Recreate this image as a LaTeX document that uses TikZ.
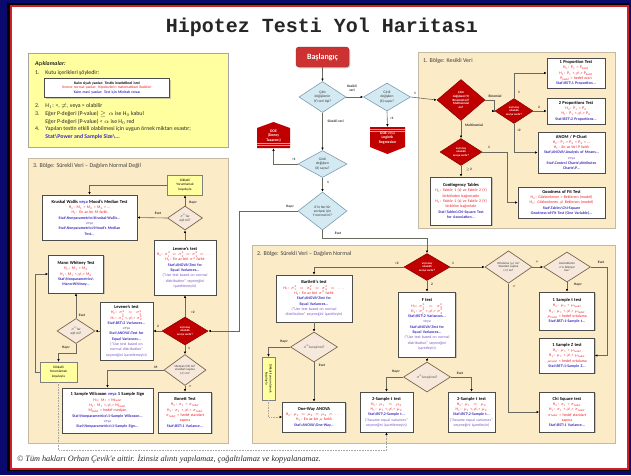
\RequirePackage{fix-cm}
\documentclass[tikz,border=0pt]{standalone}
\usepackage{fontspec}
\setmainfont{Carlito}
\newfontfamily\titlefont{Liberation Mono}
\newfontfamily\footfont{Liberation Serif}
\usetikzlibrary{shapes.geometric,shadows,arrows.meta}
\definecolor{bgnavy}{RGB}{10,10,110}
\definecolor{framered}{RGB}{210,30,40}
\definecolor{zonetan}{RGB}{251,235,198}
\definecolor{zoneline}{RGB}{195,185,165}
\definecolor{noteyellow}{RGB}{255,255,160}
\definecolor{qblue}{RGB}{212,234,243}
\definecolor{qblueline}{RGB}{125,155,175}
\definecolor{qred}{RGB}{192,0,0}
\definecolor{startred}{RGB}{205,50,50}
\definecolor{qbeige}{RGB}{246,233,220}
\definecolor{qbeigeline}{RGB}{125,100,75}
\definecolor{hypred}{RGB}{240,25,35}
\definecolor{routeblue}{RGB}{60,45,190}
\definecolor{notepurple}{RGB}{125,85,195}
\definecolor{linkgray}{RGB}{105,105,95}
\newcommand{\bsl}{\textbackslash}
\newcommand{\ix}[1]{\textsubscript{#1}}
\newcommand{\hy}[1]{{\color{hypred}#1}}
\newcommand{\mt}[1]{{\color{routeblue}\bfseries #1}}
\newcommand{\nt}[1]{{\color{notepurple}#1}}
\newcommand{\tn}[1]{{\bfseries\fontsize{4.5}{5.4}\selectfont #1}}

\begin{document}
\begin{tikzpicture}[x=1pt,y=-1pt,
	zone/.style={draw=zoneline,fill=zonetan,line width=0.6pt},
	zonetitle/.style={anchor=west,inner sep=0pt,text=black!75,font=\fontsize{6}{7}\selectfont},
	testbox/.style={draw=black!70,fill=white,line width=0.5pt,align=center,inner sep=1pt,font=\fontsize{3.9}{5.3}\selectfont,drop shadow={shadow xshift=1.3pt,shadow yshift=-1.3pt,opacity=0.4}},
	legline/.style={anchor=west,inner sep=0pt,text=black!85,font=\fontsize{5.8}{7}\selectfont},
	startbox/.style={draw=startred!70!black,fill=startred,rounded corners=3pt,text=white,minimum width=53pt,minimum height=20pt,font=\bfseries\fontsize{8}{9}\selectfont,drop shadow={shadow xshift=1.3pt,shadow yshift=-1.3pt,opacity=0.4}},
	doetext/.style={inner sep=0pt,align=center,text=white,font=\bfseries\fontsize{3.8}{4.6}\selectfont},
	bluedia/.style={diamond,draw=qblueline,fill=qblue,line width=0.6pt,inner sep=0pt,align=center,text=black!80,font=\fontsize{3.6}{4.2}\selectfont},
	reddia/.style={diamond,draw=qred!70!black,fill=qred,line width=0.5pt,inner sep=0pt,align=center,text=white,font=\bfseries\fontsize{3.1}{3.6}\selectfont},
	smallred/.style={reddia,font=\bfseries\fontsize{2.8}{3.3}\selectfont},
	beigedia/.style={diamond,draw=qbeigeline,fill=qbeige,line width=0.7pt,inner sep=0pt,align=center,text=black!80,font=\fontsize{3.4}{4.2}\selectfont},
	yelbox/.style={draw=black!50,fill=noteyellow,line width=0.4pt,align=center,inner sep=0.5pt,font=\fontsize{3.4}{4.1}\selectfont},
	link/.style={draw=linkgray,line width=0.6pt,-{Latex[length=2.6pt,width=2.4pt,color=black]}},
	dotlink/.style={link,densely dotted,draw=black!35},
	tag/.style={inner sep=0.3pt,align=center,text=black!80,font=\bfseries\fontsize{3.5}{4}\selectfont}]
	\useasboundingbox (0,0) rectangle (631,475);
	\fill[bgnavy] (0,0) rectangle (631,475);
	\fill[black] (7,3) rectangle (629,471);
	\draw[framered,line width=2pt,fill=white] (10.5,5.5) rectangle (627.5,468.5);
	\node[font=\titlefont\bfseries\fontsize{20}{22}\selectfont,text=black!85] (title) at (322,27) {Hipotez Testi Yol Haritası};

	\draw[zone] (418,52) rectangle (615,228);
	\draw[zone] (28,158) rectangle (228,443);
	\draw[zone] (252,245) rectangle (615,443);
	\node[zonetitle] (zone1) at (423,61) {1. Bölge: Kesikli Veri};
	\node[zonetitle] (zone3) at (33,166) {3. Bölge: Sürekli Veri -- Dağılım Normal Değil};
	\node[zonetitle] (zone2) at (257,254) {2. Bölge: Sürekli Veri -- Dağılım Normal};

	\node[draw=black!35,fill=noteyellow,minimum width=200pt,minimum height=94pt,drop shadow={shadow xshift=1pt,shadow yshift=-1pt,opacity=0.3}] (legend) at (128,100) {};
	\node[legline] (leghead) at (35,64) {\textbf{\textit{Açıklamalar:}}};
	\node[legline] (leg1) at (35,73) {1.\quad Kutu içerikleri şöyledir:};
	\node[testbox,text width=123pt,minimum height=19pt,font=\fontsize{3.7}{4.8}\selectfont] (legkey) at (107,88) {\textbf{Kalın siyah yazılar: Testin istatistiksel ismi}\\ \hy{Kırmızı normal yazılar: Hipotezlerin matematiksel ifadeleri}\\ \mt{Kalın mavi yazılar: Test için Minitab rotası}};
	\node[legline] (leg2) at (35,106) {2.\quad H$_1$: <, $\neq$, veya > olabilir};
	\node[legline] (leg3) at (35,114) {3.\quad Eğer P-değeri (P-value) $\geq\alpha$ ise H$_0$ kabul};
	\node[legline] (leg3b) at (35,121.5) {\phantom{3.}\quad Eğer P-değeri (P-value) < $\alpha$ ise H$_0$ red};
	\node[legline] (leg4) at (35,129) {4.\quad Yapılan testin etkili olabilmesi için uygun örnek miktarı esastır;};
	\node[legline] (leg4b) at (35,137) {\phantom{4.}\quad \mt{Stat\bsl Power and Sample Size\bsl...}};

	\node[startbox] (start) at (322.5,57) {Başlangıç};
	\node[bluedia,minimum width=47pt,minimum height=31pt] (d1) at (322.5,97) {Çıktı\\değişkenin\\(Y) veri tipi?};
	\node[bluedia,minimum width=47pt,minimum height=28pt] (d2) at (387,97) {Girdi\\değişken\\(X) sayısı?};
	\node[bluedia,minimum width=49pt,minimum height=27pt] (d3) at (322.5,164) {Girdi\\değişken\\(X) sayısı?};
	\node[bluedia,minimum width=49pt,minimum height=38pt] (d4) at (322.5,211) {X'in her bir\\seviyesi için\\Y normal mi?};

	\fill[qred] (370,127) -- (405,127) -- (405,147) -- (387.5,154) -- (370,147) -- cycle;
	\draw[white!60!qred,line width=0.5pt] (370,129.5) -- (405,129.5) (370,131.5) -- (405,131.5);
	\node[doetext,minimum width=35pt,minimum height=22pt] (doe1) at (387.5,138) {DOE {\mdseries veya}\\Logistic\\Regression};
	\fill[qred] (257,128) -- (273.5,122) -- (290,128) -- (290,148) -- (257,148) -- cycle;
	\draw[white!60!qred,line width=0.5pt] (257,143.5) -- (290,143.5) (257,145.5) -- (290,145.5);
	\node[doetext,minimum width=33pt,minimum height=24pt] (doe2) at (273.5,136) {DOE\\(Deney\\Tasarımı)};

	\node[reddia,minimum width=48pt,minimum height=41pt] (r1) at (461,100) {Çıktı\\değişkeni (Y)\\Binomial mi?\\Multinomial\\mı?};
	\node[smallred,minimum width=38pt,minimum height=25pt] (r1b) at (514,111) {x için kaç\\olasılıklı\\seviye vardır?};
	\node[smallred,minimum width=42pt,minimum height=27pt] (r1c) at (461,152) {x için kaç\\olasılıklı\\seviye vardır?};
	\node[smallred,minimum width=46pt,minimum height=27pt] (r2) at (427,267) {x için kaç\\olasılıklı\\seviye vardır?};
	\node[smallred,minimum width=46pt,minimum height=28pt] (r3) at (185,331) {x için kaç\\olasılıklı\\seviye vardır?};

	\node[testbox,text width=56pt,minimum height=30pt] (prop1) at (576,73) {\tn{1 Proportion Test}\\ \hy{H$_0$: P$_1$ = P\ix{hedef}}\\ \hy{H$_1$: P$_1$ <,$\neq$,> P\ix{hedef}}\\ \hy{P\ix{hedef} = hedef oran}\\ \mt{Stat\bsl BST\bsl 1 Proportion...}};
	\node[testbox,text width=56pt,minimum height=26pt] (prop2) at (576,111) {\tn{2 Proportions Test}\\ \hy{H$_0$: P$_1$ = P$_2$}\\ \hy{H$_1$: P$_1$ <,$\neq$,> P$_2$}\\ \mt{Stat\bsl BST\bsl 2 Proportions...}};
	\node[testbox,text width=65pt,minimum height=41pt] (anom) at (571.5,152.5) {\tn{ANOM / P-Chart}\\ \hy{H$_0$: P$_1$ = P$_2$ = P$_3$ = ...}\\ \hy{H$_1$: En az biri P farklı}\\ \mt{Stat\bsl ANOVA\bsl Analysis of Means...}\\ \nt{veya}\\ \mt{Stat\bsl Control Charts\bsl Attributes}\\ \mt{Charts\bsl P...}};
	\node[testbox,text width=59pt,minimum height=48pt] (cont) at (461,201) {\tn{Contingency Tables}\\ \hy{H$_0$: Faktör 1 (x) ve Faktör 2 (Y)}\\ \hy{birbirinden bağımsızdır}\\ \hy{H$_1$: Faktör 1 (x) ve Faktör 2 (Y)}\\ \hy{birbirine bağımlıdır}\\ \mt{Stat\bsl Tables\bsl Chi-Square Test}\\ \mt{for Association...}};
	\node[testbox,text width=85pt,minimum height=31pt] (gof) at (561.5,202.5) {\tn{Goodness of Fit Test}\\ \hy{H$_0$: Gözlemlenen = Beklenen (model)}\\ \hy{H$_1$: Gözlemlenen $\neq$ Beklenen (model)}\\ \mt{Stat\bsl Tables\bsl Chi-Square}\\ \mt{Goodness-of-Fit Test (One Variable)...}};

	\node[yelbox,minimum width=35pt,minimum height=20pt] (yel1) at (185,185) {Dikkatli\\Yorumlamak\\koşuluyla};
	\node[beigedia,minimum width=35pt,minimum height=24pt] (e1) at (185,218) {$\sigma^2$'lar\\eşit mi?};
	\node[testbox,text width=93pt,minimum height=45pt] (kw) at (89.5,217.5) {\tn{Kruskal Wallis {\color{routeblue}veya} Mood's Median Test}\\ \hy{H$_0$: M$_1$ = M$_2$ = M$_3$ = ...}\\ \hy{H$_1$: En az bir M farklı}\\ \mt{Stat\bsl Nonparametrics\bsl Kruskal-Wallis...}\\ \nt{veya}\\ \mt{Stat\bsl Nonparametrics\bsl Mood's Median}\\ \mt{Test...}};
	\node[testbox,text width=60pt,minimum height=55pt] (lev1) at (185,267.5) {\tn{Levene's test}\\ \hy{H$_0$: $\sigma_1^2=\sigma_2^2=\sigma_3^2=\ldots$}\\ \hy{H$_1$: En az biri $\sigma^2$ farklı}\\ \mt{Stat\bsl ANOVA\bsl Test for}\\ \mt{Equal Variances...}\\ \nt{("Use test based on normal}\\ \nt{distribution" seçeneğini}\\ \nt{işaretlemeyin)}};
	\node[testbox,text width=53pt,minimum height=38pt] (mw) at (76,274) {\tn{Mann Whitney Test}\\ \hy{H$_0$: M$_1$ = M$_2$}\\ \hy{H$_1$: M$_1$ <,$\neq$,> M$_2$}\\ \mt{Stat\bsl Nonparametrics\bsl}\\ \mt{Mann-Whitney...}};
	\node[testbox,text width=51pt,minimum height=58pt] (lev2) at (126.5,331) {\tn{Levene's test}\\ \hy{H$_0$: $\sigma_1^2=\sigma_2^2$}\\ \hy{H$_1$: $\sigma_1^2$ <,$\neq$,> $\sigma_2^2$}\\ \mt{Stat\bsl BST\bsl 2 Variances...}\\ \nt{veya}\\ \mt{Stat\bsl ANOVA\bsl Test for}\\ \mt{Equal Variances...}\\ \nt{("Use test based on}\\ \nt{normal distribution"}\\ \nt{seçeneğini işaretlemeyin)}};
	\node[beigedia,minimum width=38pt,minimum height=25pt] (e2) at (76,331) {$\sigma^2$'lar\\eşit mi?};
	\node[yelbox,minimum width=37pt,minimum height=20pt] (yel2) at (58.5,372) {Dikkatli\\Yorumlamak\\koşuluyla};
	\node[beigedia,minimum width=42pt,minimum height=26pt,font=\fontsize{3.1}{3.7}\selectfont] (e3) at (185,370) {Medyan (M) mi?\\standart sapma\\($\sigma$) mı?};
	\node[testbox,text width=89pt,minimum height=45pt] (wil) at (107.5,410.5) {\tn{1 Sample Wilcoxon {\color{routeblue}veya} 1 Sample Sign}\\ \hy{H$_0$: M$_1$ = M\ix{hedef}}\\ \hy{H$_1$: M$_1$ <,$\neq$,> M\ix{hedef}}\\ \hy{M\ix{hedef} = hedef medyan}\\ \mt{Stat\bsl Nonparametrics\bsl 1-Sample Wilcoxon...}\\ \nt{veya}\\ \mt{Stat\bsl Nonparametrics\bsl 1-Sample Sign...}};
	\node[testbox,text width=51pt,minimum height=41pt] (bon) at (185,412.5) {\tn{Bonett Test}\\ \hy{H$_0$: $\sigma_1$ = $\sigma$\ix{hedef}}\\ \hy{H$_1$: $\sigma_1$ <,$\neq$,> $\sigma$\ix{hedef}}\\ \hy{$\sigma$\ix{hedef} = hedef standart}\\ \hy{sapma}\\ \mt{Stat\bsl BST\bsl 1 Variance...}};

	\node[testbox,text width=74pt,minimum height=47pt] (bart) at (314,298.5) {\tn{Bartlett's test}\\ \hy{H$_0$: $\sigma_1^2=\sigma_2^2=\sigma_3^2=\ldots$}\\ \hy{H$_1$: En az biri $\sigma^2$ farklı}\\ \mt{Stat\bsl ANOVA\bsl Test for}\\ \mt{Equal Variances...}\\ \nt{("Use test based on normal}\\ \nt{distribution" seçeneğini işaretleyin)}};
	\node[beigedia,minimum width=47pt,minimum height=30pt] (e4) at (314,347) {$\sigma^2$'lar eşit mi?};
	\node[yelbox,rotate=-90,minimum width=43pt,minimum height=13pt] (yel3) at (268.5,378.5) {Dikkatli yorumlamak\\koşuluyla};
	\node[testbox,text width=61pt,minimum height=30pt] (anova) at (314,417) {\tn{One-Way ANOVA}\\ \hy{H$_0$: $\mu_1=\mu_2=\mu_3=\ldots$}\\ \hy{H$_1$: En az bir $\mu$ farklı}\\ \mt{Stat\bsl ANOVA\bsl One-Way...}};
	\node[testbox,text width=55pt,minimum height=65pt] (ftest) at (427,324.5) {\tn{F test}\\ \hy{H$_0$: $\sigma_1^2=\sigma_2^2$}\\ \hy{H$_1$: $\sigma_1^2$ <,$\neq$,> $\sigma_2^2$}\\ \mt{Stat\bsl BST\bsl 2 Variances...}\\ \nt{veya}\\ \mt{Stat\bsl ANOVA\bsl Test for}\\ \mt{Equal Variances...}\\ \nt{("Use test based on normal}\\ \nt{distribution" seçeneğini}\\ \nt{işaretleyin)}};
	\node[beigedia,minimum width=47pt,minimum height=30pt] (e5) at (427,377) {$\sigma^2$'lar eşit mi?};
	\node[testbox,text width=51pt,minimum height=40pt] (t2a) at (386.5,412) {\tn{2-Sample t test}\\ \hy{H$_0$: $\mu_1=\mu_2$}\\ \hy{H$_1$: $\mu_1$ <,$\neq$,> $\mu_2$}\\ \mt{Stat\bsl BST\bsl 2-Sample t...}\\ \nt{("Assume equal variances"}\\ \nt{seçeneğini işaretlemeyin)}};
	\node[testbox,text width=45pt,minimum height=40pt] (t2b) at (471.5,412) {\tn{2-Sample t test}\\ \hy{H$_0$: $\mu_1=\mu_2$}\\ \hy{H$_1$: $\mu_1$ <,$\neq$,> $\mu_2$}\\ \mt{Stat\bsl BST\bsl 2-Sample t...}\\ \nt{("Assume equal variances"}\\ \nt{seçeneğini işaretleyin)}};
	\node[beigedia,minimum width=47pt,minimum height=30pt,font=\fontsize{3.1}{3.7}\selectfont] (e6) at (508.5,267) {Ortalama ($\mu$) mı?\\Standart sapma\\($\sigma$) mı?};
	\node[beigedia,minimum width=47pt,minimum height=30pt,font=\fontsize{3.1}{3.7}\selectfont] (e7) at (567,267) {Ana kütlenin\\$\sigma$'sı biliniyor\\mu?};
	\node[testbox,text width=53pt,minimum height=38pt] (t1) at (567,311) {\tn{1 Sample t test}\\ \hy{H$_0$: $\mu_1$ = $\mu$\ix{hedef}}\\ \hy{H$_1$: $\mu_1$ <,$\neq$,> $\mu$\ix{hedef}}\\ \hy{$\mu$\ix{hedef} = hedef ortalama}\\ \mt{Stat\bsl BST\bsl 1-Sample t...}};
	\node[testbox,text width=53pt,minimum height=35pt] (z1) at (567,355.5) {\tn{1 Sample Z test}\\ \hy{H$_0$: $\mu_1$ = $\mu$\ix{hedef}}\\ \hy{H$_1$: $\mu_1$ <,$\neq$,> $\mu$\ix{hedef}}\\ \hy{$\mu$\ix{hedef} = hedef ortalama}\\ \mt{Stat\bsl BST\bsl 1-Sample Z...}};
	\node[testbox,text width=53pt,minimum height=40pt] (chi) at (567,412) {\tn{Chi Square test}\\ \hy{H$_0$: $\sigma_1$ = $\sigma$\ix{hedef}}\\ \hy{H$_1$: $\sigma_1$ <,$\neq$,> $\sigma$\ix{hedef}}\\ \hy{$\sigma$\ix{hedef} = hedef standart}\\ \hy{sapma}\\ \mt{Stat\bsl BST\bsl 1 Variance...}};

	\draw[link] (start.south) -- (d1.north);
	\draw[link] (d1.east) -- (d2.west);
	\draw[link] (d2.south) -- (doe1.north);
	\draw[link] (d1.south) -- (d3.north);
	\draw[link] (d3.west) -| (doe2.south);
	\draw[link] (d3.south) -- (d4.north);
	\draw[link] (d4.west) -- ++(-58,0) |- (r3.east);
	\draw[link] (d4.south) -- ++(0,8) -| (r2.north);
	\draw[link] (d2.east) -- (r1.west);
	\draw[link] (r1.east) -- ++(9,0) |- (r1b.west);
	\draw[link] (r1b.north) |- (prop1.west);
	\draw[link] (r1b.east) -- (prop2.west);
	\draw[link] (r1b.south) |- (anom.west);
	\draw[link] (r1.south) -- (r1c.north);
	\draw[link] (r1c.east) -- ++(25,0) |- (gof.west);
	\draw[link] (r1c.south) -- (cont.north);
	\draw[link] (yel1.west) -| (kw.north);
	\draw[link] (e1.north) -- (yel1.south);
	\draw[link] (e1.west) -- (kw.east);
	\draw[link] (lev1.north) -- (e1.south);
	\draw[link] (r3.north) -- (lev1.south);
	\draw[link] (r3.west) -- (lev2.east);
	\draw[link] (lev2.west) -- (e2.east);
	\draw[link] (e2.north) -- (mw.south);
	\draw[link] (e2.south) -- ++(0,9) -| (yel2.north);
	\draw[link] (yel2.west) -- ++(-5,0) |- (mw.west);
	\draw[dotlink] (yel2.south) -- ++(0,68) -| (t2a.south);
	\draw[link] (r3.south) -- (e3.north);
	\draw[link] (e3.west) -| (wil.north);
	\draw[link] (e3.south) -- (bon.north);
	\draw[link] (r2.west) -| (bart.north);
	\draw[link] (bart.south) -- (e4.north);
	\draw[link] (e4.west) -| (yel3.west);
	\draw[dotlink] (yel3.east) |- (anova.west);
	\draw[link] (e4.south) -- (anova.north);
	\draw[link] (r2.south) -- (ftest.north);
	\draw[link] (ftest.south) -- (e5.north);
	\draw[link] (e5.west) -| (t2a.north);
	\draw[link] (e5.east) -| (t2b.north);
	\draw[link] (r2.east) -- (e6.west);
	\draw[link] (e6.east) -- (e7.west);
	\draw[link] (e7.east) -- ++(16,0) |- (z1.east);
	\draw[link] (e7.south) -- (t1.north);
	\draw[link] (e6.south) |- (chi.west);

	\node[tag] (tkes) at (352,88) {Kesikli\\veri};
	\node[tag] (tdoe1) at (392,118) {>1};
	\node[tag,anchor=west] (tsur) at (327,121) {Sürekli veri};
	\node[tag] (tdoe2) at (294,159) {>1};
	\node[tag] (tone) at (328,182) {1};
	\node[tag] (thay) at (290,207) {Hayır};
	\node[tag] (tevet) at (338,233) {Evet};
	\node[tag] (tz1) at (415,93) {1};
	\node[tag] (tbin) at (495,96) {Binomial};
	\node[tag] (tp1) at (519,92) {1};
	\node[tag] (tp2) at (539,107) {2};
	\node[tag] (tanom) at (519,130) {>2};
	\node[tag] (tmul) at (474,125) {Multinomial};
	\node[tag] (tgof) at (489,147) {1};
	\node[tag] (tcont) at (469,170) {$\geq$2};
	\node[tag] (te1h) at (193,203) {Hayır};
	\node[tag] (te1e) at (158,213) {Evet};
	\node[tag] (tr3a) at (193,312) {>2};
	\node[tag] (tr3b) at (158,326) {2};
	\node[tag] (te2e) at (82,315) {Evet};
	\node[tag] (te2h) at (66,348) {Hayır};
	\node[tag] (tr3c) at (189,348) {1};
	\node[tag] (te3m) at (156,367) {M};
	\node[tag] (te3s) at (190,387) {$\sigma$};
	\node[tag] (tr2a) at (397,263) {>2};
	\node[tag] (te4h) at (284,342) {Hayır};
	\node[tag] (te4e) at (322,365) {Evet};
	\node[tag] (tr2b) at (432,284) {2};
	\node[tag] (te5h) at (396,372) {Hayır};
	\node[tag] (te5e) at (460,373) {Evet};
	\node[tag] (tr2c) at (453,263) {1};
	\node[tag] (te6m) at (537,262) {$\mu$};
	\node[tag] (te7e) at (601,262) {Evet};
	\node[tag] (te7h) at (578,285) {Hayır};
	\node[tag] (te6s) at (514,287) {$\sigma$};

	\node[anchor=west,inner sep=0pt,text=black!85,font=\footfont\itshape\fontsize{8.2}{9}\selectfont] (copy) at (17,459) {© Tüm hakları Orhan Çevik'e aittir. İzinsiz alıntı yapılamaz, çoğaltılamaz ve kopyalanamaz.};
\end{tikzpicture}
\end{document}
